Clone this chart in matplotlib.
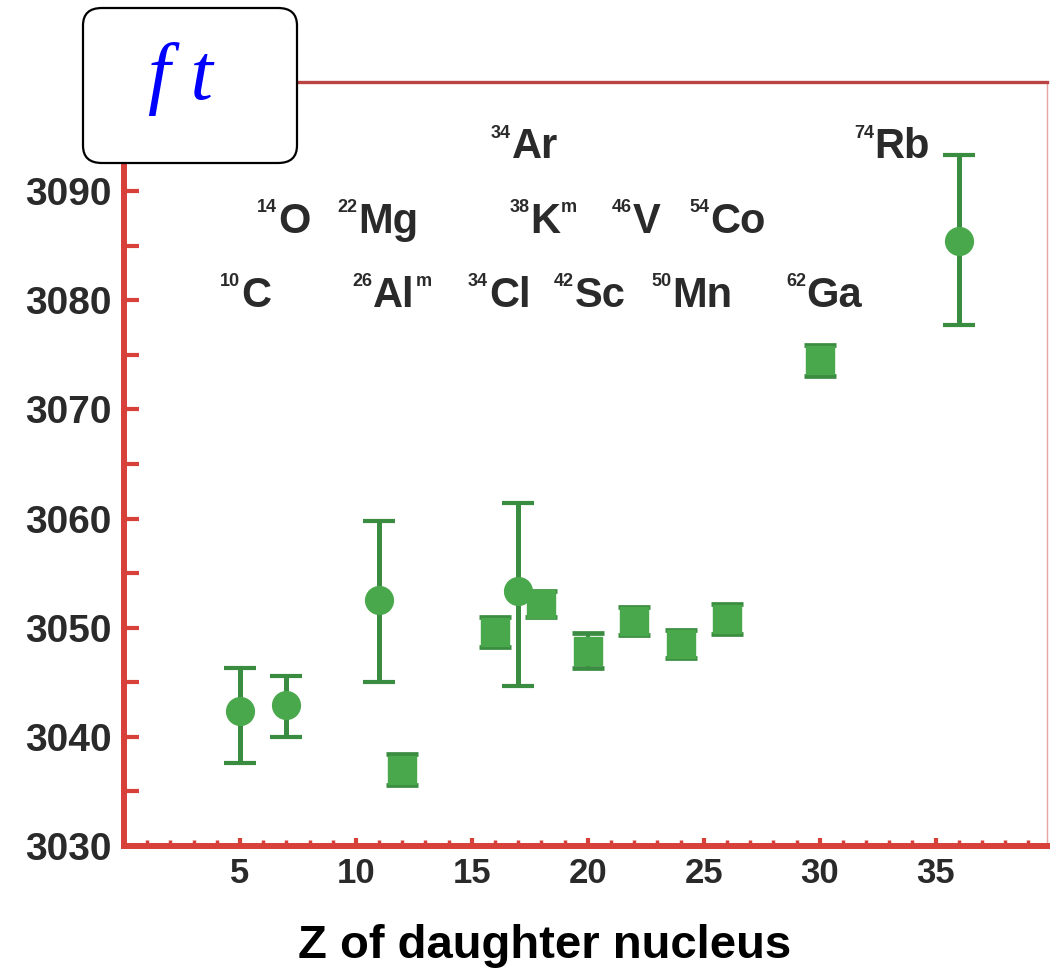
import matplotlib
matplotlib.use('Agg')
import matplotlib.pyplot as plt
from matplotlib.patches import FancyBboxPatch
from matplotlib.ticker import MultipleLocator

# ---------------- data ----------------
circle_Z = [5, 7, 11, 17, 36]
circle_ft = [3042.4, 3042.9, 3052.5, 3053.4, 3085.4]
circle_err_lo = [4.8, 2.9, 7.5, 8.7, 7.7]
circle_err_hi = [3.9, 2.7, 7.3, 8.0, 7.9]

square_Z = [12, 16, 18, 20, 22, 24, 26, 30]
square_ft = [3037.0, 3049.6, 3052.2, 3047.9, 3050.6, 3048.5, 3050.8, 3074.5]
square_err = [1.4, 1.4, 1.2, 1.6, 1.3, 1.3, 1.4, 1.4]

nuclide_mass = ['34', '74', '14', '22', '38', '46', '54', '10', '26', '34', '42', '50', '62']
nuclide_sym = ['Ar', 'Rb', 'O', 'Mg', 'K', 'V', 'Co', 'C', 'Al', 'Cl', 'Sc', 'Mn', 'Ga']
nuclide_isomer = ['', '', '', '', 'm', '', '', '', 'm', '', '', '', '']

x_ticks = [5, 10, 15, 20, 25, 30, 35]
y_ticks = [3030, 3040, 3050, 3060, 3070, 3080, 3090]

# label layout (left edge of element symbol, baseline) in data coords
label_x = [16.72, 32.37, 6.64, 10.09, 17.5, 21.94, 25.26, 5.04, 10.73, 15.73, 19.44, 23.62, 29.44]
row_y = [3093.0, 3086.2, 3079.4]
label_row = [0, 0, 1, 1, 1, 1, 1, 2, 2, 2, 2, 2, 2]

# ---------------- style ----------------
GREEN = '#4aa84c'
DARK_GREEN = '#3a8d40'
RED = '#d8413a'
TXT = '#2a2a2a'
FONT = 'Liberation Sans'

plt.rcParams['font.family'] = [FONT, 'DejaVu Sans']

fig = plt.figure(figsize=(10.5, 9.69), dpi=100)
ax = fig.add_axes([124 / 1050, 1 - 846 / 969, (1047 - 124) / 1050, (846 - 82) / 969])

ax.errorbar(circle_Z, circle_ft, yerr=[circle_err_lo, circle_err_hi], fmt='o',
            ms=20, mfc=GREEN, mec=GREEN, ecolor=DARK_GREEN, elinewidth=3.6,
            capsize=11.5, capthick=3, zorder=3)
ax.errorbar(square_Z, square_ft, yerr=square_err, fmt='s',
            ms=19.5, mfc=GREEN, mec=GREEN, ecolor=DARK_GREEN, elinewidth=3,
            capsize=11.5, capthick=3.4, zorder=3)

ax.set_xlim(0, 39.8)
ax.set_ylim(3030, 3100)

ax.set_xticks(x_ticks)
ax.set_xticklabels([str(v) for v in x_ticks])
ax.set_yticks(y_ticks)
ax.set_yticklabels([str(v) for v in y_ticks])
ax.xaxis.set_minor_locator(MultipleLocator(1))
ax.yaxis.set_minor_locator(MultipleLocator(5))

ax.tick_params(axis='y', which='both', direction='in', length=11, width=3, color=RED,
               labelsize=28, labelcolor=TXT, pad=9)
ax.tick_params(axis='x', which='major', direction='in', length=6, width=3, color=RED,
               labelsize=25, labelcolor=TXT, pad=8)
ax.tick_params(axis='x', which='minor', direction='in', length=4, width=2.5, color=RED)
for lab in ax.get_xticklabels() + ax.get_yticklabels():
    lab.set_fontweight('bold')

ax.spines['left'].set_color(RED)
ax.spines['left'].set_linewidth(4.3)
ax.spines['bottom'].set_color(RED)
ax.spines['bottom'].set_linewidth(4.3)
ax.spines['top'].set_color('#b94442')
ax.spines['top'].set_linewidth(2.4)
ax.spines['right'].set_color('#e6a3a3')
ax.spines['right'].set_linewidth(1)

# nuclide labels
for m, s, iso, lx, r in zip(nuclide_mass, nuclide_sym, nuclide_isomer, label_x, label_row):
    t = ax.text(lx, row_y[r], s, fontsize=30, fontweight='bold', color=TXT,
                ha='left', va='baseline', zorder=4)
    ax.annotate(m, xy=(0, 1), xycoords=t, xytext=(-0.5, 2), textcoords='offset points',
                ha='right', va='top', fontsize=13, fontweight='bold', color=TXT)
    if iso:
        ax.annotate(iso, xy=(1, 1), xycoords=t, xytext=(1.0, 2), textcoords='offset points',
                    ha='left', va='top', fontsize=13, fontweight='bold', color=TXT)

# x label
fig.text(545 / 1050, 1 - 958 / 969, 'Z of daughter nucleus', fontsize=34,
         fontweight='bold', color='black', ha='center', va='baseline')

# "f t" box
box = FancyBboxPatch((83 / 1050, 1 - 163 / 969), (297 - 83) / 1050, (163 - 8) / 969,
                     boxstyle='round,pad=0,rounding_size=0.018',
                     transform=fig.transFigure, facecolor='white', edgecolor='black',
                     linewidth=1.6, zorder=5)
fig.patches.append(box)
fig.text(180 / 1050, 1 - 99 / 969, 'f t', fontsize=58, family='Liberation Serif',
         style='italic', color='#0000ff', ha='center', va='baseline', zorder=6)

fig.savefig('out.png', dpi=100)
